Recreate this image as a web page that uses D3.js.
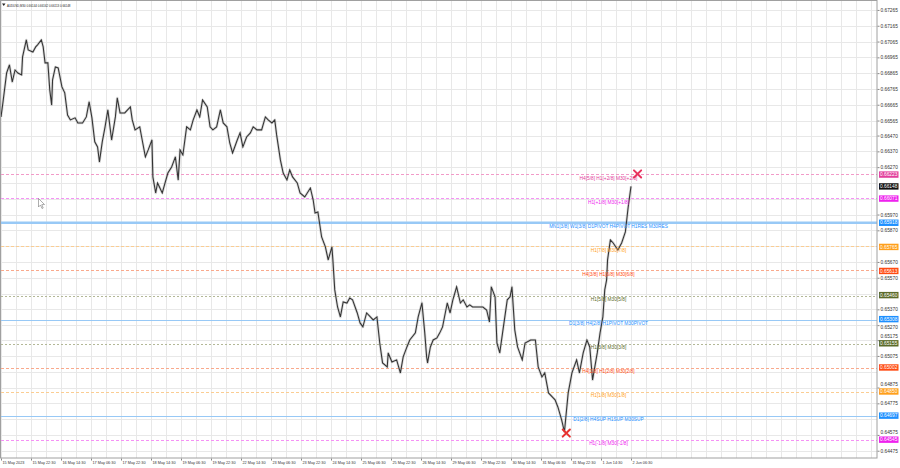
<!DOCTYPE html>
<html><head><meta charset="utf-8">
<script src="https://cdn.jsdelivr.net/npm/d3@7"></script>
<style>html,body{margin:0;padding:0;background:#fff;overflow:hidden}svg{display:block;font-family:"Liberation Sans",Arial,sans-serif}</style>
</head><body><svg id="c" width="900" height="468"></svg>
<script>
// ---------- data ----------
const titleText = "AUDUSD,M30  0.66144 0.66162 0.66113 0.66148";
const barIndex = [0,2,6,9,12,15,18,22,23,27,29,34,37,39,43,45,47,50,52,54,55,58,61,65,68,71,74,79,82,87,91,94,97,100,103,105,108,111,114,118,122,124,127,132,138,140,143,148,150,154,157,161,162,165,167,172,175,178,182,186,189,191,194,198,202,205,209,212,215,220,223,226,230,234,237,241,244,247,252,255,258,262,266,269,273,278,282,285,289,292,294,298,301,305,308,311,316,319,324,330,333,335,338,342,346,349,353,354,356,359,362,365,369,372,375,380,383,386,390,394,397,401,404,407,412,413,417,422,426,429,433,436,442,445,449,452,454,455,458,461,465,468,471,476,479,482,486,490,493,497,500,503,508,514,518,521,523,527,529,532,535,540,543,545,548,551,556,559,565,570,573,577,580,584,588,591,594,598,601,605,609,614,617,621,625,628,631,636,639,642,644,646,647,650,653,658,662,666,669,672];
const closePrice = [0.66588,0.66676,0.66866,0.66917,0.66809,0.66885,0.66866,0.66854,0.66968,0.67075,0.67012,0.66999,0.67031,0.67044,0.67075,0.67031,0.66930,0.66930,0.66759,0.66664,0.66822,0.66904,0.66898,0.66778,0.66740,0.66600,0.66569,0.66582,0.66550,0.66550,0.66588,0.66683,0.66582,0.66430,0.66398,0.66303,0.66430,0.66525,0.66632,0.66442,0.66588,0.66708,0.66613,0.66613,0.66651,0.66569,0.66506,0.66525,0.66461,0.66335,0.66379,0.66442,0.66208,0.66107,0.66170,0.66107,0.66170,0.66233,0.66271,0.66335,0.66189,0.66379,0.66347,0.66525,0.66506,0.66569,0.66632,0.66588,0.66695,0.66651,0.66525,0.66506,0.66525,0.66632,0.66550,0.66525,0.66423,0.66360,0.66442,0.66487,0.66398,0.66461,0.66487,0.66525,0.66506,0.66506,0.66588,0.66569,0.66550,0.66569,0.66474,0.66316,0.66233,0.66189,0.66252,0.66208,0.66170,0.66107,0.66081,0.66138,0.66062,0.65980,0.65986,0.65828,0.65765,0.65683,0.65765,0.65683,0.65493,0.65385,0.65322,0.65417,0.65410,0.65442,0.65430,0.65347,0.65284,0.65259,0.65347,0.65322,0.65303,0.65322,0.65157,0.65031,0.65005,0.65094,0.65037,0.65050,0.64968,0.65069,0.65132,0.65176,0.65221,0.65322,0.65411,0.65221,0.65069,0.65031,0.65132,0.65176,0.65189,0.65221,0.65259,0.65410,0.65347,0.65430,0.65512,0.65410,0.65430,0.65385,0.65398,0.65385,0.65385,0.65385,0.65366,0.65290,0.65512,0.65449,0.65157,0.65094,0.65221,0.65430,0.65449,0.65512,0.65240,0.65132,0.65050,0.65157,0.65176,0.65176,0.65005,0.64942,0.64968,0.64841,0.64816,0.64797,0.64752,0.64670,0.64595,0.64841,0.64968,0.65050,0.64968,0.65094,0.65176,0.65132,0.64923,0.65094,0.65221,0.65322,0.65493,0.65556,0.65683,0.65809,0.65790,0.65746,0.65790,0.65860,0.66018,0.66148];
const lastPrice = 0.66148;

const levelPrices = [0.66223,0.66071,0.65918,0.65765,0.65613,0.65460,0.65308,0.65155,0.65002,0.64850,0.64697,0.64545];
const levelNames = ["H4[5/8] H1[+2/8] M30[+2/8]","H1[+1/8] M30[+1/8]","MN1[3/8] W1[3/8] D1PIVOT H4PIVOT H1RES M30RES","H1[7/8] M30[7/8]","H4[3/8] H1[6/8] M30[6/8]","H1[5/8] M30[5/8]","D1[3/8] H4[2/8] H1PIVOT M30PIVOT","H1[3/8] M30[3/8]","H4[1/8] H1[2/8] M30[2/8]","H1[1/8] M30[1/8]","D1[2/8] H4SUP H1SUP M30SUP","H1[-1/8] M30[-1/8]"];

const markerIndex = [679, 603];
const markerPrice = [0.66227, 0.64587];

const priceTickLabels = ["0.67265","0.67165","0.67065","0.66965","0.66865","0.66765","0.66665","0.66565","0.66470","0.66370","0.66270","0.65970","0.65870","0.65670","0.65570","0.65370","0.65270","0.65175","0.65075","0.64875","0.64775","0.64575","0.64475"];
const hiddenGridTicks = [0.66170,0.66070,0.65770,0.65470,0.64975,0.64675];

const dateLabels = ["15 May 2023","15 May 22:30","16 May 14:30","17 May 06:30","17 May 22:30","18 May 14:30","19 May 06:30","19 May 22:30","22 May 14:30","23 May 06:30","23 May 22:30","24 May 14:30","25 May 06:30","25 May 22:30","26 May 14:30","29 May 06:30","29 May 22:30","30 May 14:30","31 May 06:30","31 May 22:30","1 Jun 14:30","2 Jun 06:30"];
const barsPerDateLabel = 32;

// ---------- styles ----------
// c: text / box colour, lc: line colour (pale as in the reference)
const levelStyle = [
  {c:"#e2409c", lc:"#f29ac8", dash:"3,2", w:1},
  {c:"#ee22ee", lc:"#f592f5", dash:"3,2", w:1},
  {c:"#1e90ff", lc:"#98c9f6", dash:null,  w:2.5},
  {c:"#ff9f1c", lc:"#fbcd92", dash:"3,2", w:1},
  {c:"#ff4a12", lc:"#f9a98c", dash:"3,2", w:1},
  {c:"#5b6b2a", lc:"#b3b897", dash:"2,2", w:1},
  {c:"#1e90ff", lc:"#98c9f6", dash:null,  w:1},
  {c:"#5b6b2a", lc:"#b3b897", dash:"2,2", w:1},
  {c:"#ff4a12", lc:"#f9a98c", dash:"3,2", w:1},
  {c:"#ff9f1c", lc:"#fbcd92", dash:"3,2", w:1},
  {c:"#1e90ff", lc:"#98c9f6", dash:null,  w:1},
  {c:"#ee22ee", lc:"#f592f5", dash:"3,2", w:1}
];
const markerColors = ["#e8335f","#e8322f"];

// ---------- layout ----------
const plotL = 1, plotR = 877, plotT = 0, plotB = 458;
const svg = d3.select("#c");

const x = d3.scaleLinear().domain([0, (plotR-plotL)*32/30]).range([plotL, plotR]);
const y = d3.scaleLinear().domain([0.64429, 0.67328]).range([plotB, plotT]);
const rowY = v => 2*Math.round(y(v)/2) + 0.5;   // crisp 1px row

// grid
const gridG = svg.append("g");
const vTicks = d3.range(0, (plotR-plotL)*32/30, 16);
gridG.selectAll("line.v").data(vTicks).join("line").attr("class","v")
  .attr("x1", d=>Math.round(x(d))+0.5).attr("x2", d=>Math.round(x(d))+0.5)
  .attr("y1", plotT).attr("y2", plotB).attr("stroke", "#e8e8e8");
const priceTickVals = priceTickLabels.map(Number);
gridG.selectAll("line.h").data(priceTickVals.concat(hiddenGridTicks)).join("line").attr("class","h")
  .attr("x1", plotL).attr("x2", plotR)
  .attr("y1", d=>Math.round(y(d))+0.5).attr("y2", d=>Math.round(y(d))+0.5).attr("stroke", "#e8e8e8");

// level lines
const lvG = svg.append("g");
levelPrices.forEach((p,i)=>{
  const s = levelStyle[i];
  const yy = s.w > 1 ? y(p) : rowY(p);
  lvG.append("line").attr("x1", plotL).attr("x2", plotR)
    .attr("y1", yy).attr("y2", yy)
    .style("stroke", s.lc).style("stroke-width", s.w)
    .style("stroke-dasharray", s.dash ? s.dash : "none");
});

// price series
const pts = barIndex.map((b,i)=>[b, closePrice[i]]);
const line = d3.line().x(d=>x(d[0])).y(d=>y(d[1]));
svg.append("path").datum(pts).attr("d", line).attr("fill","none")
  .attr("stroke","#9a9a9a").attr("stroke-width",2.6).attr("stroke-opacity",0.4).attr("stroke-linejoin","round");
svg.append("path").datum(pts).attr("d", line).attr("fill","none")
  .attr("stroke","#333").attr("stroke-width",1.05).attr("stroke-linejoin","miter");

// level labels
levelPrices.forEach((p,i)=>{
  svg.append("text").attr("x", x(648)).attr("y", y(p)+5.5)
    .attr("text-anchor","middle").attr("font-size",4.8)
    .attr("fill", levelStyle[i].c).text(levelNames[i]);
});

// markers
markerIndex.forEach((b,i)=>{
  const cx = x(b), cy = y(markerPrice[i]), r = 3.6;
  svg.append("path").attr("d", `M${cx-r},${cy-r}L${cx+r},${cy+r}M${cx+r},${cy-r}L${cx-r},${cy+r}`)
    .attr("stroke", markerColors[i]).attr("stroke-width", 2).attr("stroke-linecap","round");
});

// border
svg.append("rect").attr("x", 0.5).attr("y", 0.5).attr("width", plotR-0.5).attr("height", plotB-0.5)
  .attr("fill","none").attr("stroke","#a0a0a0");

// axis price boxes (positions)
const boxPrices = levelPrices.concat([lastPrice]);
const boxColors = levelStyle.map(s=>s.c).concat(["#111"]);

// right axis
const yAxis = d3.axisRight(y).tickValues(priceTickVals).tickFormat((d,i)=>priceTickLabels[i]).tickSize(2).tickPadding(1);
const ya = svg.append("g").attr("transform",`translate(${plotR+0.5},0)`).call(yAxis);
ya.select(".domain").remove();
ya.selectAll("line").attr("stroke","#888");
ya.selectAll("text").attr("font-size",4.8).attr("fill","#333").attr("font-family","'Liberation Sans',Arial,sans-serif")
  .attr("dy", d=>{
    const near = boxPrices.map(p=>y(p)-y(d)).filter(v=>Math.abs(v)<7.5);
    if (!near.length) return "0.32em";
    const v = near[0];
    return (v>0 ? (0.32*4.8 - (7.5 - v)) : (0.32*4.8 + (7.5 + v))) + "px";
  });

// bottom axis
const dateIdx = dateLabels.map((d,i)=>i*barsPerDateLabel);
const xAxis = d3.axisBottom(x).tickValues(dateIdx).tickFormat((d,i)=>dateLabels[i]).tickSize(2).tickPadding(1);
const xa = svg.append("g").attr("transform",`translate(0,${plotB+0.5})`).call(xAxis);
xa.select(".domain").remove();
xa.selectAll("line").attr("stroke","#888");
xa.selectAll("text").attr("font-size",3.8).attr("fill","#333").attr("text-anchor","start").attr("dx",1)
  .attr("font-family","'Liberation Sans',Arial,sans-serif");

boxPrices.forEach((p,i)=>{
  const cy = y(p);
  svg.append("rect").attr("x", plotR+2).attr("y", cy-3.2).attr("width", 19.5).attr("height", 6.4).attr("fill", boxColors[i]);
  svg.append("text").attr("x", plotR+3).attr("y", cy+1.7).attr("font-size",4.8).attr("fill","#fff").text(p.toFixed(5));
});

// title
svg.append("path").attr("d","M2,3.5L5.5,3.5L3.75,6Z").attr("fill","#222");
svg.append("text").attr("x",7).attr("y",6.5).attr("font-size",2.9).attr("fill","#222").text(titleText);

// mouse cursor
svg.append("path").attr("d","M38.5,198.5L38.5,207L40.5,205L42,208.5L43.2,208L41.8,204.6L44.5,204.5Z")
  .attr("fill","#fff").attr("stroke","#777").attr("stroke-width",0.6);
</script></body></html>
